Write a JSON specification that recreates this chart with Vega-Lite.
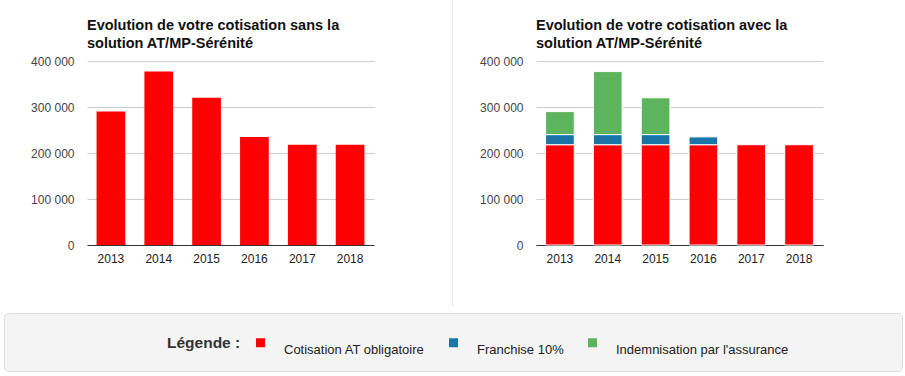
{
  "$schema": "https://vega.github.io/schema/vega-lite/v6.json",
  "background": "white",
  "padding": {"left": 3, "top": 0, "right": 4, "bottom": 0},
  "datasets": {
    "cotisation": [
      {"annee": "2013", "poste": "Cotisation AT obligatoire", "montant": 218000},
      {"annee": "2013", "poste": "Franchise 10%", "montant": 22000},
      {"annee": "2013", "poste": "Indemnisation par l'assurance", "montant": 50000},
      {"annee": "2014", "poste": "Cotisation AT obligatoire", "montant": 218000},
      {"annee": "2014", "poste": "Franchise 10%", "montant": 22000},
      {"annee": "2014", "poste": "Indemnisation par l'assurance", "montant": 137000},
      {"annee": "2015", "poste": "Cotisation AT obligatoire", "montant": 218000},
      {"annee": "2015", "poste": "Franchise 10%", "montant": 22000},
      {"annee": "2015", "poste": "Indemnisation par l'assurance", "montant": 80000},
      {"annee": "2016", "poste": "Cotisation AT obligatoire", "montant": 218000},
      {"annee": "2016", "poste": "Franchise 10%", "montant": 17000},
      {"annee": "2017", "poste": "Cotisation AT obligatoire", "montant": 218000},
      {"annee": "2018", "poste": "Cotisation AT obligatoire", "montant": 218000}
    ]
  },
  "config": {
    "font": "Liberation Sans",
    "view": {"stroke": null},
    "title": {"font": "Liberation Sans", "fontSize": 14.5, "fontWeight": "bold", "color": "#111111", "anchor": "start", "frame": "group", "lineHeight": 18, "offset": 4},
    "axis": {"labelFont": "Liberation Sans", "labelFontSize": 12, "ticks": false, "tickSize": 0}
  },
  "spacing": 6,
  "vconcat": [
    {
      "spacing": 0,
      "hconcat": [
        {"width": 1, "height": 1, "data": {"values": []}, "mark": "rule", "encoding": {}},
        {
          "spacing": 0,
          "hconcat": [
            {
              "spacing": 78,
              "hconcat": [
                {
                  "spacing": 16,
                  "vconcat": [
                    {"width": 1, "height": 1, "data": {"values": []}, "mark": "rule", "encoding": {}},
                    {
                      "width": 287,
                      "height": 184,
                      "title": {"text": ["Evolution de votre cotisation sans la", "solution AT/MP-Sérénité"]},
                      "data": {"name": "cotisation"},
                      "mark": {"type": "bar", "color": "#ff0000"},
                      "encoding": {
                        "x": {"field": "annee", "type": "ordinal", "title": null, "scale": {"paddingInner": 0.4, "paddingOuter": 0.2},
                              "axis": {"labelAngle": 0, "domainColor": "#333333", "labelColor": "#222222", "labelPadding": 8, "grid": false}},
                        "y": {"aggregate": "sum", "field": "montant", "type": "quantitative", "title": null, "scale": {"domain": [0, 400000]},
                              "axis": {"values": [0, 100000, 200000, 300000, 400000], "labelExpr": "replace(format(datum.value, ','), ',', ' ')", "domain": false, "gridColor": "#cccccc", "labelColor": "#444444", "labelPadding": 13, "minExtent": 82, "maxExtent": 82}}
                      }
                    }
                  ]
                },
                {
                  "width": 1,
                  "height": 306,
                  "data": {"values": []},
                  "mark": "rule",
                  "encoding": {},
                  "view": {"fill": "#e5e5e5", "stroke": null}
                }
              ]
            },
            {
              "spacing": 16,
              "vconcat": [
                {"width": 1, "height": 1, "data": {"values": []}, "mark": "rule", "encoding": {}},
                {
                  "width": 287,
                  "height": 184,
                  "title": {"text": ["Evolution de votre cotisation avec la", "solution AT/MP-Sérénité"]},
                  "data": {"name": "cotisation"},
                  "mark": {"type": "bar", "stroke": "white", "strokeWidth": 1},
                  "encoding": {
                    "x": {"field": "annee", "type": "ordinal", "title": null, "scale": {"paddingInner": 0.4, "paddingOuter": 0.2},
                          "axis": {"labelAngle": 0, "domainColor": "#333333", "labelColor": "#222222", "labelPadding": 8, "grid": false}},
                    "y": {"field": "montant", "type": "quantitative", "stack": "zero", "title": null, "scale": {"domain": [0, 400000]},
                          "axis": {"values": [0, 100000, 200000, 300000, 400000], "labelExpr": "replace(format(datum.value, ','), ',', ' ')", "domain": false, "gridColor": "#cccccc", "labelColor": "#444444", "labelPadding": 13, "minExtent": 83, "maxExtent": 83}},
                    "color": {"field": "poste", "type": "nominal",
                              "scale": {"domain": ["Cotisation AT obligatoire", "Franchise 10%", "Indemnisation par l'assurance"], "range": ["#ff0000", "#1a74a6", "#5cb45c"]},
                              "legend": {"title": "Légende :", "orient": "none", "legendX": 163, "legendY": 336, "direction": "horizontal",
                                         "titleOrient": "left", "titleAnchor": "start", "titleFont": "Liberation Sans", "titleFontSize": 15.5, "titleFontWeight": "bold", "titleColor": "#333333", "titlePadding": 13, "titleBaseline": "top",
                                         "labelFont": "Liberation Sans", "labelFontSize": 13, "labelColor": "#222222", "labelOffset": 17, "labelBaseline": "line-top", "labelLineHeight": 7, "labelLimit": 0,
                                         "symbolType": "square", "symbolSize": 81, "symbolStrokeWidth": 0, "symbolOpacity": 1, "columnPadding": 22, "padding": 0}},
                    "order": {"field": "poste", "sort": "ascending"}
                  }
                }
              ]
            }
          ]
        }
      ]
    },
    {
      "width": 898,
      "height": 58,
      "data": {"values": []},
      "mark": "rule",
      "encoding": {},
      "view": {"fill": "#f4f4f4", "stroke": "#dedede", "cornerRadius": 4}
    }
  ]
}
